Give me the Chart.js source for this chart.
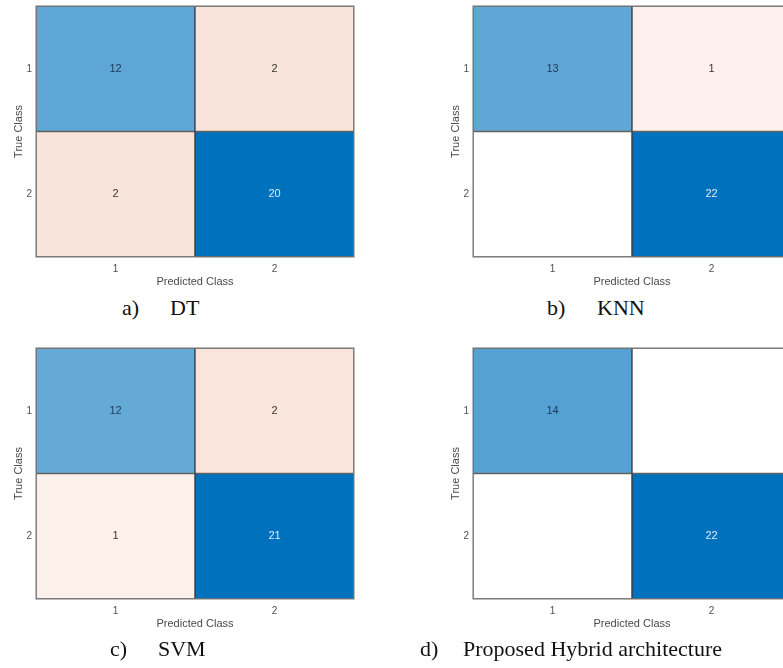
<!DOCTYPE html>
<html>
<head>
<meta charset="utf-8">
<script src="https://cdn.jsdelivr.net/npm/chart.js@4/dist/chart.umd.min.js"></script>
<style>
  html, body { margin: 0; padding: 0; background: #fff; }
  #page { position: relative; width: 783px; height: 668px; overflow: hidden; }
  .panel { position: absolute; width: 365px; height: 295px; }
  .cap { position: absolute; font-family: "Liberation Serif", "Times New Roman", serif; font-size: 22px; line-height: 22px; color: #111; white-space: nowrap; }
</style>
</head>
<body>
<div id="page">
  <div class="panel" style="left:0px;top:0px"><canvas id="dt" width="365" height="295"></canvas></div>
  <div class="panel" style="left:437px;top:0px"><canvas id="knn" width="365" height="295"></canvas></div>
  <div class="panel" style="left:0px;top:342px"><canvas id="svm" width="365" height="295"></canvas></div>
  <div class="panel" style="left:437px;top:342px"><canvas id="hybrid" width="365" height="295"></canvas></div>

  <span class="cap" style="left:122px;top:297px">a)</span>
  <span class="cap" style="left:170px;top:297px">DT</span>
  <span class="cap" style="left:547px;top:297px">b)</span>
  <span class="cap" style="left:597px;top:297px">KNN</span>
  <span class="cap" style="left:110px;top:638px">c)</span>
  <span class="cap" style="left:158px;top:638px">SVM</span>
  <span class="cap" style="left:420px;top:638px">d)</span>
  <span class="cap" style="left:463px;top:638px">Proposed Hybrid architecture</span>
</div>
<script>
// class labels
const predictedClasses = ["1", "2"]
const trueClasses = ["1", "2"]

// confusion matrices, rows = true class, cols = predicted class
const dtCounts = [[12, 2], [2, 20]]
const knnCounts = [[13, 1], [0, 22]]
const svmCounts = [[12, 2], [1, 21]]
const hybridCounts = [[14, 0], [0, 22]]

const sansFont = "'Liberation Sans', Arial, Helvetica, sans-serif"
const blue = [0, 114, 189]
const orange = [217, 83, 25]

function mix(t, c) {
  const r = Math.round(255 + (c[0] - 255) * t)
  const g = Math.round(255 + (c[1] - 255) * t)
  const b = Math.round(255 + (c[2] - 255) * t)
  return `rgb(${r}, ${g}, ${b})`
}

function cellShade(v, diag, maxVal) {
  if (v === 0) return 0
  return Math.pow(v / maxVal, diag ? 0.9 : 0.8)
}

function cellColor(v, diag, maxVal) {
  if (v === 0) return "#ffffff"
  return mix(cellShade(v, diag, maxVal), diag ? blue : orange)
}

// writes the counts in the middle of each cell
const cellText = {
  id: "cellText",
  afterDatasetsDraw(chart) {
    const ctx = chart.ctx
    const counts = chart.config.options.plugins.cellText.counts
    const maxVal = Math.max(...counts.flat())
    ctx.save()
    ctx.font = "11px " + sansFont
    ctx.textAlign = "center"
    ctx.textBaseline = "middle"
    chart.data.datasets.forEach((ds, i) => {
      chart.getDatasetMeta(i).data.forEach((bar, j) => {
        const v = counts[i][j]
        if (v === 0) return
        const diag = i === j
        const t = cellShade(v, diag, maxVal)
        if (diag) ctx.fillStyle = t > 0.75 ? "#dcebf7" : "#1c3857"
        else ctx.fillStyle = "#3a3230"
        const p = bar.getCenterPoint()
        ctx.fillText(String(v), p.x, p.y)
      })
    })
    ctx.restore()
  },
}

// grey box round the plot area
const frame = {
  id: "frame",
  afterDatasetsDraw(chart) {
    const a = chart.chartArea
    const ctx = chart.ctx
    ctx.save()
    ctx.strokeStyle = "#8a8a8a"
    ctx.lineWidth = 1.2
    ctx.strokeRect(a.left, a.top, a.right - a.left, a.bottom - a.top)
    ctx.restore()
  },
}

function makeMatrix(id, counts) {
  const maxVal = Math.max(...counts.flat())
  const datasets = trueClasses.map((tc, i) => ({
    label: "True " + tc,
    data: predictedClasses.map(() => [i + 0.5, i + 1.5]),
    backgroundColor: counts[i].map((v, j) => cellColor(v, i === j, maxVal)),
    borderColor: "#3b3b3b",
    borderWidth: 1,
    borderSkipped: false,
    barPercentage: 1,
    categoryPercentage: 1,
    grouped: false,
  }))

  return new Chart(document.getElementById(id), {
    type: "bar",
    data: { labels: predictedClasses, datasets },
    options: {
      responsive: false,
      animation: false,
      layout: { padding: { top: 6, right: 11, left: 0, bottom: 0 } },
      scales: {
        x: {
          type: "category",
          offset: true,
          grid: { display: false, drawTicks: false },
          border: { display: false },
          ticks: { color: "#505050", font: { size: 10, family: sansFont }, padding: 6, maxRotation: 0 },
          title: {
            display: true,
            text: "Predicted Class",
            color: "#4a4a4a",
            font: { size: 11, family: sansFont },
            padding: { top: 0, bottom: 6 },
          },
          afterFit: (s) => {
            s.height = 38
            s.paddingLeft = 0
            s.paddingRight = 0
          },
        },
        y: {
          type: "linear",
          min: 0.5,
          max: 2.5,
          reverse: true,
          grid: { display: false, drawTicks: false },
          border: { display: false },
          afterBuildTicks: (s) => {
            s.ticks = trueClasses.map((c, i) => ({ value: i + 1 }))
          },
          ticks: {
            color: "#505050",
            font: { size: 10, family: sansFont },
            padding: 4,
            callback: (v) => trueClasses[v - 1],
          },
          title: {
            display: true,
            text: "True Class",
            color: "#4a4a4a",
            font: { size: 11, family: sansFont },
            padding: { top: 12, bottom: 0 },
          },
          afterFit: (s) => {
            s.width = 36
            s.paddingTop = 0
            s.paddingBottom = 0
          },
        },
      },
      plugins: {
        legend: { display: false },
        tooltip: { enabled: false },
        cellText: { counts },
      },
    },
    plugins: [cellText, frame],
  })
}

makeMatrix("dt", dtCounts)
makeMatrix("knn", knnCounts)
makeMatrix("svm", svmCounts)
makeMatrix("hybrid", hybridCounts)
</script>
</body>
</html>
